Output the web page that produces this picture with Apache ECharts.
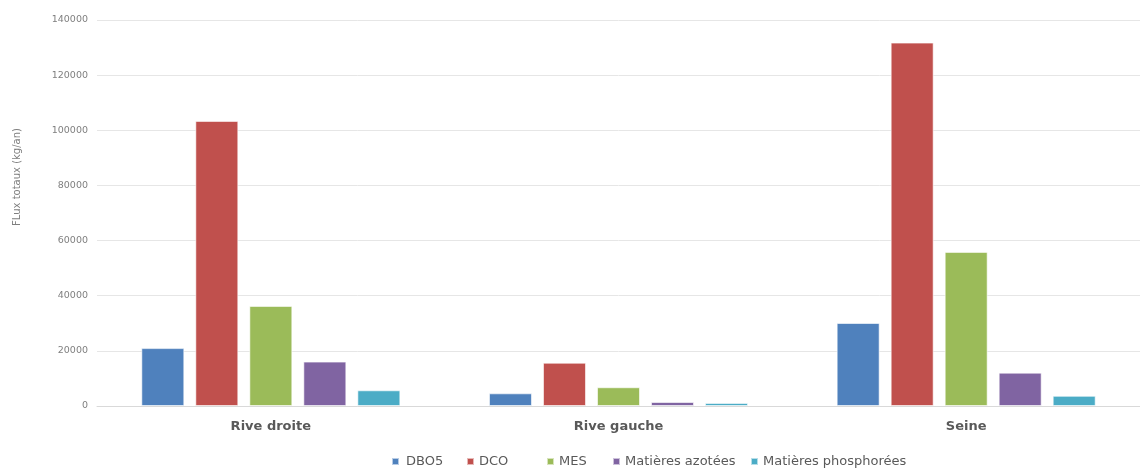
<!DOCTYPE html>
<html><head><meta charset="utf-8">
<script src="https://cdn.jsdelivr.net/npm/echarts@6/dist/echarts.min.js"></script>
<style>html,body{margin:0;padding:0;background:#fff}#c{width:1140px;height:471px}</style>
</head><body><div id="c"></div>
<script>
const categories = ['Rive droite', 'Rive gauche', 'Seine'];
const seriesNames = ['DBO5', 'DCO', 'MES', 'Matières azotées', 'Matières phosphorées'];
const dbo5 = [21000, 4600, 30100];
const dco = [103400, 15700, 131800];
const mes = [36300, 6800, 55900];
const azotees = [16100, 1450, 12100];
const phosphorees = [5700, 1100, 3700];
const colors = ['#4F81BD', '#C0504D', '#9BBB59', '#8064A2', '#4BACC6'];
const values = [dbo5, dco, mes, azotees, phosphorees];
const legendLefts = [391, 466, 546, 612, 750];
const font = '"DejaVu Sans", sans-serif';

const chart = echarts.init(document.getElementById('c'), null, {renderer: 'canvas'});
chart.setOption({
  animation: false,
  grid: {left: 97, width: 1056, top: 20, bottom: 65},
  legend: seriesNames.map((n, i) => ({
    top: 455, left: legendLefts[i], itemWidth: 7, itemHeight: 7, icon: 'rect',
    padding: 0,
    textStyle: {color: '#595959', fontSize: 13, fontFamily: font, padding: [0, 0, 0, i === 0 ? 2 : 0]},
    data: [n]
  })),
  xAxis: {
    type: 'category', data: categories,
    axisLine: {lineStyle: {color: '#d9d9d9'}},
    axisTick: {show: false},
    axisLabel: {color: '#595959', fontSize: 13, fontWeight: 'bold', fontFamily: font, margin: 14}
  },
  yAxis: {
    type: 'value', min: 0, max: 140000, interval: 20000,
    name: 'FLux totaux (kg/an)', nameLocation: 'middle', nameGap: 75,
    nameTextStyle: {color: '#7f7f7f', fontSize: 10, fontFamily: font, padding: [0, 0, 0, 72]},
    axisLabel: {color: '#7f7f7f', fontSize: 9.5, fontFamily: font, margin: 9, formatter: v => String(v)},
    splitLine: {lineStyle: {color: '#e6e6e6'}},
    axisLine: {show: false}, axisTick: {show: false}
  },
  series: seriesNames.map((n, i) => ({
    name: n, type: 'bar', data: values[i],
    barWidth: 43, barGap: '25.6%',
    itemStyle: {color: colors[i], borderColor: 'rgba(255,255,255,0.6)', borderWidth: 1}
  }))
});
</script></body></html>
